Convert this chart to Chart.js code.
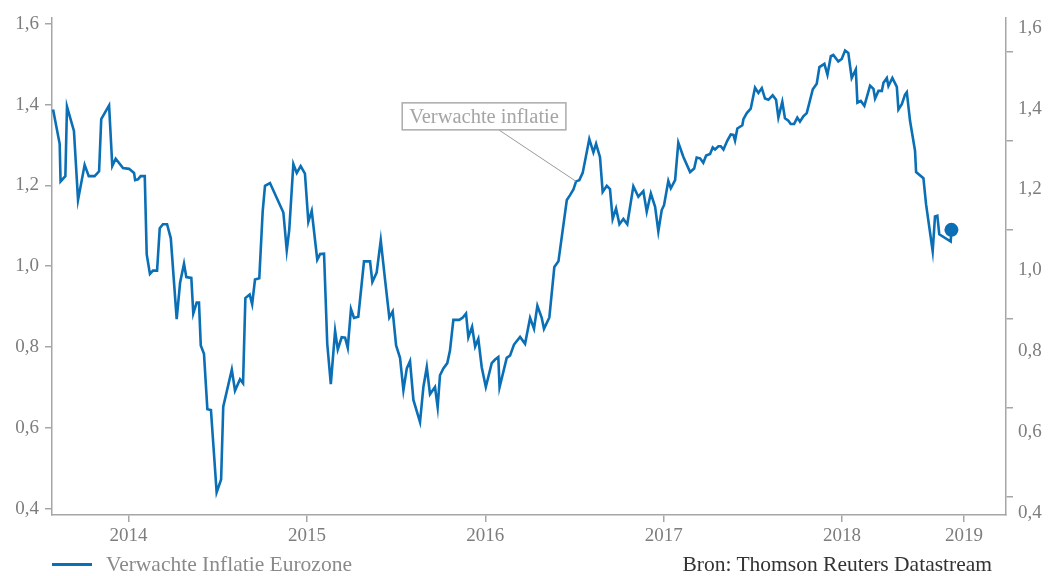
<!DOCTYPE html>
<html><head><meta charset="utf-8">
<script src="https://cdn.jsdelivr.net/npm/chart.js@4"></script>
<style>
html,body{margin:0;padding:0;background:#fff;}
#wrap{position:relative;width:1051px;height:576px;overflow:hidden;}
#c{position:absolute;left:0;top:0;}
#legend{position:absolute;left:52px;top:552px;font:21.5px "Liberation Serif";color:#8a8a8a;display:flex;align-items:center;white-space:nowrap;}
#legend .sw{display:inline-block;width:40px;height:3px;margin-right:14px;}
#source{position:absolute;right:59px;top:552px;font:21.5px "Liberation Serif";color:#333;white-space:nowrap;}
</style></head>
<body><div id="wrap"><canvas id="c" width="1051" height="576"></canvas><div id="legend"></div><div id="source"></div></div>
<script>
const seriesName = 'Verwachte Inflatie Eurozone';
const sourceText = 'Bron: Thomson Reuters Datastream';
const annotationText = 'Verwachte inflatie';

const dates = [
2013.577,2013.614,2013.619,2013.646,2013.655,2013.694,2013.717,2013.754,2013.777,2013.810,
2013.835,2013.847,2013.891,2013.909,2013.928,2013.969,2014.003,2014.031,2014.037,2014.053,
2014.068,2014.091,2014.102,2014.120,2014.137,2014.160,2014.175,2014.193,2014.216,2014.237,
2014.270,2014.289,2014.311,2014.324,2014.352,2014.363,2014.382,2014.395,2014.405,2014.423,
2014.442,2014.462,2014.494,2014.519,2014.531,2014.579,2014.597,2014.625,2014.642,2014.655,
2014.679,2014.693,2014.709,2014.733,2014.752,2014.765,2014.793,2014.868,2014.887,2014.901,
2014.924,2014.943,2014.965,2014.989,2015.008,2015.027,2015.058,2015.074,2015.096,2015.114,
2015.134,2015.158,2015.173,2015.195,2015.214,2015.229,2015.247,2015.264,2015.288,2015.320,
2015.354,2015.367,2015.391,2015.414,2015.438,2015.462,2015.481,2015.500,2015.522,2015.541,
2015.560,2015.578,2015.597,2015.634,2015.653,2015.672,2015.690,2015.718,2015.733,2015.746,
2015.765,2015.787,2015.802,2015.821,2015.854,2015.874,2015.892,2015.905,2015.926,2015.943,
2015.961,2015.980,2016.003,2016.036,2016.055,2016.073,2016.080,2016.101,2016.120,2016.139,
2016.161,2016.195,2016.223,2016.251,2016.273,2016.292,2016.316,2016.329,2016.359,2016.387,
2016.410,2016.457,2016.475,2016.494,2016.509,2016.527,2016.546,2016.583,2016.606,2016.621,
2016.643,2016.658,2016.681,2016.699,2016.714,2016.733,2016.752,2016.774,2016.796,2016.830,
2016.858,2016.886,2016.905,2016.928,2016.952,2016.970,2016.989,2017.002,2017.026,2017.040,
2017.064,2017.082,2017.110,2017.148,2017.171,2017.185,2017.204,2017.222,2017.238,2017.260,
2017.275,2017.288,2017.307,2017.320,2017.335,2017.357,2017.376,2017.391,2017.400,2017.413,
2017.441,2017.447,2017.466,2017.488,2017.512,2017.531,2017.550,2017.568,2017.587,2017.611,
2017.630,2017.643,2017.665,2017.680,2017.699,2017.712,2017.731,2017.749,2017.764,2017.783,
2017.802,2017.836,2017.858,2017.873,2017.901,2017.918,2017.937,2017.951,2017.979,2017.998,
2018.017,2018.035,2018.045,2018.054,2018.077,2018.086,2018.105,2018.125,2018.157,2018.176,
2018.185,2018.204,2018.223,2018.232,2018.251,2018.260,2018.282,2018.307,2018.316,2018.335,
2018.353,2018.363,2018.381,2018.409,2018.415,2018.456,2018.471,2018.508,2018.521,2018.534,
2018.545,2018.609,2018.613];

const values = [
1.388,1.303,1.210,1.223,1.395,1.335,1.164,1.251,1.223,1.223,
1.235,1.364,1.398,1.248,1.266,1.243,1.241,1.231,1.213,1.215,
1.223,1.223,1.029,0.981,0.989,0.989,1.094,1.104,1.104,1.069,
0.869,0.959,1.006,0.973,0.971,0.883,0.910,0.910,0.804,0.783,
0.646,0.644,0.440,0.472,0.652,0.744,0.692,0.720,0.710,0.921,
0.930,0.906,0.967,0.970,1.135,1.199,1.206,1.133,1.039,1.090,
1.253,1.231,1.248,1.229,1.110,1.137,1.016,1.030,1.031,0.808,
0.708,0.840,0.794,0.824,0.823,0.798,0.894,0.872,0.875,1.012,
1.012,0.961,0.984,1.064,0.967,0.873,0.888,0.804,0.773,0.693,
0.747,0.765,0.669,0.614,0.701,0.750,0.683,0.701,0.651,0.730,
0.747,0.760,0.791,0.867,0.867,0.873,0.883,0.824,0.850,0.801,
0.820,0.750,0.701,0.760,0.769,0.775,0.700,0.738,0.773,0.779,
0.806,0.825,0.808,0.872,0.845,0.902,0.873,0.845,0.873,0.998,
1.012,1.164,1.176,1.190,1.210,1.213,1.231,1.315,1.282,1.303,
1.270,1.184,1.199,1.191,1.117,1.143,1.104,1.117,1.104,1.198,
1.172,1.186,1.135,1.180,1.147,1.086,1.139,1.151,1.211,1.193,
1.213,1.306,1.271,1.233,1.242,1.269,1.267,1.256,1.274,1.278,
1.294,1.289,1.297,1.297,1.289,1.311,1.326,1.325,1.311,1.341,
1.349,1.364,1.379,1.390,1.442,1.429,1.441,1.415,1.412,1.423,
1.412,1.368,1.407,1.366,1.360,1.352,1.352,1.368,1.358,1.371,
1.379,1.438,1.452,1.493,1.501,1.474,1.520,1.523,1.507,1.513,
1.534,1.528,1.495,1.466,1.487,1.405,1.409,1.397,1.447,1.439,
1.415,1.434,1.434,1.454,1.466,1.446,1.466,1.444,1.388,1.401,
1.425,1.431,1.360,1.286,1.233,1.218,1.153,1.037,1.123,1.125,
1.079,1.061,1.090];

const xTickValues = [2014, 2015, 2016, 2017, 2018, 2018.684];
const xTickLabels = ['2014', '2015', '2016', '2017', '2018', '2019'];
const yTickValues = [0.4, 0.6, 0.8, 1.0, 1.2, 1.4, 1.6];
const yTickLabels = ['0,4', '0,6', '0,8', '1,0', '1,2', '1,4', '1,6'];
const rightMarkValues = [0.4, 0.6, 0.8, 1.0, 1.2, 1.4];
const annotationAnchor = [2016.509, 1.210];
const annotationBoxCenter = [2015.993, 1.371];

const BLUE = '#0b6fb6';
const AXIS = '#a6a6a6';
const TICKTXT = '#7d7d7d';
const FONT = '"Liberation Serif", serif';

const calloutPlugin = {
  id: 'callout',
  afterDatasetsDraw(chart) {
    const {ctx} = chart;
    const x = chart.scales.x, y = chart.scales.y;
    ctx.save();
    ctx.font = '20.5px ' + FONT;
    const tw = ctx.measureText(annotationText).width;
    const w = tw + 14, h = 27;
    const cx = x.getPixelForValue(annotationBoxCenter[0]);
    const cy = y.getPixelForValue(annotationBoxCenter[1]);
    const left = cx - w / 2, top = cy - h / 2;
    const ax = x.getPixelForValue(annotationAnchor[0]);
    const ay = y.getPixelForValue(annotationAnchor[1]);
    ctx.strokeStyle = '#9a9a9a';
    ctx.lineWidth = 1;
    ctx.beginPath();
    ctx.moveTo(left + w * 0.59, top + h);
    ctx.lineTo(ax, ay);
    ctx.stroke();
    ctx.fillStyle = '#fff';
    ctx.fillRect(left, top, w, h);
    ctx.strokeStyle = '#ababab';
    ctx.lineWidth = 1.5;
    ctx.strokeRect(left, top, w, h);
    ctx.fillStyle = '#a5a5a5';
    ctx.textAlign = 'center';
    ctx.textBaseline = 'middle';
    ctx.fillText(annotationText, cx, cy + 1);
    ctx.restore();
  }
};

const lastIndex = values.length - 1;

const chart = new Chart(document.getElementById('c'), {
  type: 'line',
  data: {
    datasets: [{
      label: seriesName,
      data: dates.map((d, i) => ({x: d, y: values[i]})),
      borderColor: BLUE,
      backgroundColor: BLUE,
      borderWidth: 2.6,
      tension: 0,
      pointRadius: (c) => c.dataIndex === lastIndex ? 7 : 0,
      pointHoverRadius: 0,
      pointBackgroundColor: BLUE,
      pointBorderWidth: 0,
      clip: false
    }]
  },
  options: {
    responsive: false,
    devicePixelRatio: 1,
    animation: false,
    events: [],
    layout: {padding: {top: 14, bottom: 21, left: 0, right: 0}},
    plugins: {legend: {display: false}, tooltip: {enabled: false}},
    scales: {
      x: {
        type: 'linear',
        min: 2013.571,
        max: 2018.919,
        afterBuildTicks: (s) => { s.ticks = xTickValues.map(v => ({value: v})); },
        afterFit: (s) => { s.height = 40; },
        ticks: {
          autoSkip: false, maxRotation: 0, padding: 3,
          color: TICKTXT, font: {family: FONT, size: 19},
          callback: (v, i) => xTickLabels[i]
        },
        grid: {drawOnChartArea: false, drawTicks: true, tickLength: 7, color: AXIS, lineWidth: 1.5},
        border: {color: AXIS, width: 1.5}
      },
      y: {
        type: 'linear',
        position: 'left',
        min: 0.384,
        max: 1.616,
        afterBuildTicks: (s) => { s.ticks = yTickValues.map(v => ({value: v})); },
        afterFit: (s) => { s.width = 52; },
        ticks: {
          padding: 6, color: TICKTXT, font: {family: FONT, size: 19},
          callback: (v, i) => yTickLabels[i]
        },
        grid: {drawOnChartArea: false, drawTicks: true, tickLength: 7, color: AXIS, lineWidth: 1.5},
        border: {color: AXIS, width: 1.5}
      },
      yMarks: {
        type: 'linear',
        position: 'right',
        weight: 0,
        min: 0.36,
        max: 1.476,
        afterBuildTicks: (s) => { s.ticks = rightMarkValues.map(v => ({value: v})); },
        afterFit: (s) => { s.width = 12; },
        ticks: {display: false},
        grid: {drawOnChartArea: false, drawTicks: true, tickLength: 7, color: AXIS, lineWidth: 1.5},
        border: {color: AXIS, width: 1.5}
      },
      yLabels: {
        type: 'linear',
        position: 'right',
        weight: 1,
        min: 0.384,
        max: 1.616,
        afterBuildTicks: (s) => { s.ticks = yTickValues.map(v => ({value: v})); },
        afterFit: (s) => { s.width = 33; },
        ticks: {
          padding: 0, labelOffset: 4, color: TICKTXT, font: {family: FONT, size: 19},
          callback: (v, i) => yTickLabels[i]
        },
        grid: {display: false, drawOnChartArea: false, drawTicks: false},
        border: {display: false}
      }
    }
  },
  plugins: [calloutPlugin]
});

// HTML legend built from the chart's dataset
const lg = document.getElementById('legend');
chart.data.datasets.forEach(ds => {
  const sw = document.createElement('span');
  sw.className = 'sw';
  sw.style.background = ds.borderColor;
  const tx = document.createElement('span');
  tx.textContent = ds.label;
  lg.appendChild(sw);
  lg.appendChild(tx);
});
document.getElementById('source').textContent = sourceText;
</script>
</body></html>
